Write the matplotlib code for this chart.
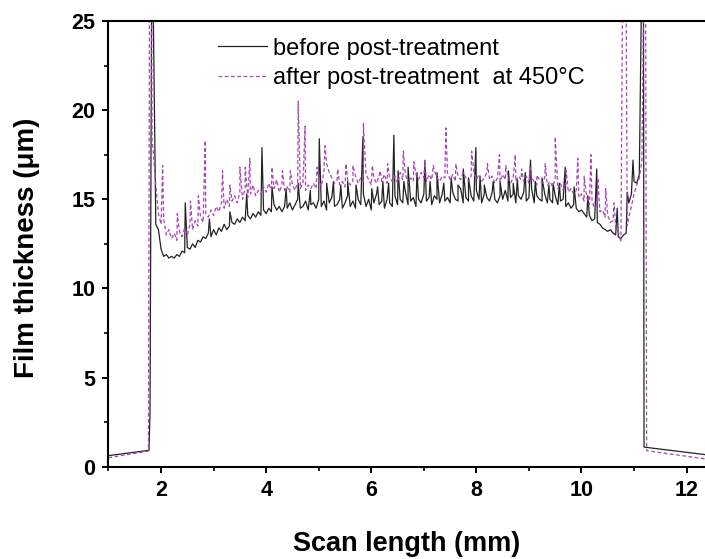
import numpy as np
import matplotlib
matplotlib.use("Agg")
import matplotlib.pyplot as plt
from matplotlib.ticker import MultipleLocator

plt.rcParams['font.family'] = ['Liberation Sans', 'DejaVu Sans']

# profile body, sampled every 0.05 mm from 1.90 to 11.10
grid_x = np.round(np.arange(1.90, 11.101, 0.05), 2)

before_body = [
    13.6, 13.3, 12.2, 11.8, 11.9, 11.7, 11.8, 11.7, 11.9, 11.8,
    12.1, 12.0, 12.3, 12.2, 12.5, 12.3, 12.7, 12.6, 12.9, 12.8,
    13.1, 12.9, 13.3, 13.0, 13.4, 13.2, 13.6, 13.3, 13.5, 13.7,
    13.6, 13.9, 13.7, 14.0, 13.8, 14.1, 13.9, 14.2, 14.0, 14.3,
    14.1, 14.4, 14.2, 14.5, 14.3, 14.7, 14.4, 14.6, 14.3, 14.6,
    14.5, 14.8, 14.4, 14.7, 15.0, 14.5, 14.6, 14.9, 14.4, 14.7,
    14.8, 14.5, 15.0, 14.6, 14.9, 14.4, 14.8, 15.1, 14.6, 14.7,
    15.0, 14.5, 14.8, 15.2, 14.6, 14.9, 14.5, 15.0, 14.7, 15.3,
    14.6, 15.0, 14.4, 14.8, 15.3, 14.7, 14.9, 14.5, 15.0, 14.8,
    14.6, 15.2, 14.7, 15.0, 14.8, 15.4, 14.7, 14.9, 15.1, 14.6,
    15.0, 14.8, 15.3, 14.9, 15.1, 14.7, 15.2, 15.0, 14.8, 15.3,
    14.9, 15.1, 14.8, 15.4, 15.0, 14.9, 15.6, 14.8, 15.1, 14.9,
    15.2, 14.9, 15.5, 15.0, 14.8, 15.3, 15.1, 14.9, 15.4, 15.0,
    14.8, 15.2, 15.0, 15.5, 14.9, 15.1, 15.3, 14.8, 15.2, 15.0,
    15.4, 14.9, 15.1, 15.6, 14.8, 15.2, 15.0, 14.9, 15.3, 14.8,
    15.0, 14.8, 15.2, 14.7, 14.9, 15.0, 14.6, 14.8, 14.5, 14.7,
    14.5, 14.3, 14.4, 14.2, 14.0, 14.1, 13.8, 13.9, 13.7, 13.6,
    13.4, 13.3, 13.2, 13.3, 13.1, 13.0, 12.9, 12.8, 13.0, 13.1,
    14.8, 15.3, 16.0, 15.9, 16.4,
]

after_body = [
    15.8, 14.2, 13.6, 13.9, 13.0, 13.3, 12.8, 13.1, 12.7, 13.2,
    12.9, 13.4, 13.0, 13.6, 13.3, 13.8, 13.5, 14.0, 13.7, 14.2,
    14.0, 14.4, 14.1, 14.6, 14.3, 14.8, 14.5, 15.0, 14.6, 14.9,
    15.2, 14.8, 15.4, 15.0, 15.6, 15.1, 15.3, 15.8, 15.2, 15.5,
    15.3, 15.7, 15.4, 15.9, 15.5, 15.6, 16.1, 15.4, 15.8, 15.5,
    15.7, 15.4, 15.8, 15.5, 16.0, 15.6, 15.9, 15.5, 15.8, 15.6,
    15.9, 15.6, 16.1, 15.7, 16.6, 17.0, 16.5, 16.2, 15.9, 16.1,
    15.8, 16.0, 15.7, 16.1, 15.8, 16.0, 16.3, 15.9, 16.2, 16.0,
    16.4, 16.1, 15.8, 16.2, 15.9, 16.3, 16.0, 16.4, 15.9, 16.2,
    16.0, 16.3, 15.9, 16.5, 16.1, 16.4, 15.9, 16.2, 16.0, 16.4,
    16.1, 16.5, 16.2, 16.0, 16.4, 16.1, 16.6, 16.2, 16.0, 16.3,
    16.2, 16.5, 16.1, 16.4, 16.0, 16.3, 16.1, 16.5, 16.2, 16.0,
    16.3, 16.6, 16.1, 16.4, 16.0, 16.2, 16.5, 16.1, 16.3, 15.9,
    16.2, 16.0, 16.4, 16.1, 16.3, 15.9, 16.2, 16.0, 16.3, 16.1,
    16.0, 16.3, 15.9, 16.2, 16.0, 15.8, 16.1, 15.9, 16.2, 15.8,
    16.0, 15.7, 16.1, 15.6, 15.9, 15.5, 15.8, 15.4, 15.6, 15.3,
    15.5, 15.1, 15.3, 14.9, 15.1, 14.7, 14.9, 14.5, 14.7, 14.3,
    14.4, 14.0, 14.1, 13.7, 13.8, 13.4, 13.2, 12.6, 26.0, 26.0,
    14.0, 14.6, 15.3, 15.8, 16.2,
]

# narrow spikes on top of the body
before_spike_x = [2.46, 2.92, 3.31, 3.63, 3.92, 4.11, 4.38, 4.61, 4.84, 5.01,
                  5.15, 5.28, 5.42, 5.55, 5.71, 5.84, 6.01, 6.12, 6.22, 6.33,
                  6.43, 6.51, 6.62, 6.70, 6.87, 7.02, 7.12, 7.25, 7.38, 7.52,
                  7.65, 7.75, 7.85, 7.99, 8.07, 8.15, 8.32, 8.45, 8.61, 8.70,
                  8.78, 8.93, 9.03, 9.12, 9.25, 9.38, 9.46, 9.58, 9.69, 9.86,
                  10.12, 10.29, 10.68, 10.87, 10.98]
before_spike_y = [14.8, 13.9, 14.3, 15.3, 17.9, 15.7, 15.6, 15.9, 15.5, 18.4,
                  15.9, 16.0, 15.8, 16.0, 15.8, 18.5, 15.6, 15.7, 16.0, 15.9,
                  18.6, 16.6, 16.0, 16.8, 16.5, 17.1, 16.0, 16.5, 15.9, 16.2,
                  15.8, 16.7, 16.2, 17.9, 16.3, 15.8, 16.0, 16.0, 16.6, 15.9,
                  16.1, 16.5, 17.2, 16.0, 16.2, 15.8, 15.9, 15.9, 16.8, 15.7,
                  15.2, 16.7, 14.5, 15.4, 17.2]

after_spike_x = [2.03, 2.31, 2.56, 2.71, 2.84, 3.17, 3.31, 3.50, 3.60, 3.69,
                 4.11, 4.31, 4.46, 4.61, 4.74, 4.97, 5.12, 5.36, 5.52, 5.65,
                 5.85, 6.02, 6.17, 6.31, 6.61, 6.81, 7.02, 7.18, 7.42, 7.61,
                 7.91, 8.21, 8.44, 8.56, 8.74, 8.86, 9.02, 9.15, 9.31, 9.50,
                 9.71, 9.93, 10.05, 10.18, 10.31, 10.46, 10.62, 10.78, 10.87]
after_spike_y = [16.9, 14.2, 14.9, 15.2, 18.3, 16.6, 15.8, 16.8, 16.8, 17.3,
                 16.8, 16.6, 16.6, 20.5, 19.1, 16.8, 18.0, 16.7, 17.0, 16.9,
                 19.25, 16.9, 16.6, 17.0, 17.7, 17.1, 17.2, 16.9, 19.0, 17.0,
                 17.7, 17.0, 17.5, 16.9, 17.5, 16.7, 16.8, 16.35, 17.0, 18.5,
                 16.6, 17.3, 16.3, 17.5, 16.2, 15.6, 14.8, 26.0, 13.5]

# substrate edges either side of the film
before_left_x = [1.00, 1.77, 1.79, 1.82, 1.85]
before_left_y = [0.62, 0.92, 3.0, 26.0, 26.0]
before_right_x = [11.14, 11.18, 11.19, 12.40]
before_right_y = [26.0, 26.0, 1.1, 0.66]

after_left_x = [1.00, 1.76, 1.78, 1.82, 1.83, 1.86, 1.88]
after_left_y = [0.50, 0.88, 26.0, 26.0, 18.3, 17.4, 16.5]
after_right_x = [11.15, 11.18, 11.22, 11.24, 12.40]
after_right_y = [17.2, 26.0, 26.0, 0.9, 0.42]


def build(left_x, left_y, body, spike_x, spike_y, right_x, right_y):
    x = np.concatenate([left_x, grid_x, spike_x, right_x])
    y = np.concatenate([left_y, body, spike_y, right_y])
    order = np.argsort(x, kind='stable')
    return x[order], y[order]


bx, by = build(before_left_x, before_left_y, before_body,
               before_spike_x, before_spike_y, before_right_x, before_right_y)
ax_, ay = build(after_left_x, after_left_y, after_body,
                after_spike_x, after_spike_y, after_right_x, after_right_y)

fig = plt.figure(figsize=(7.05, 5.59), dpi=100)
ax = fig.add_axes([0.1539, 0.1651, 0.8461, 0.7973])

ax.plot(bx, by, color='#222222', lw=0.9, label='before post-treatment')
ax.plot(ax_, ay, color='#a845b5', lw=0.9, linestyle=(0, (3, 2)),
        label='after post-treatment  at 450°C')

ax.set_xlim(1.0, 12.35)
ax.set_ylim(0, 25)
ax.xaxis.set_major_locator(MultipleLocator(2))
ax.xaxis.set_minor_locator(MultipleLocator(1))
ax.yaxis.set_major_locator(MultipleLocator(5))
ax.yaxis.set_minor_locator(MultipleLocator(2.5))

for s in ['left', 'bottom', 'top']:
    ax.spines[s].set_linewidth(1.5)
ax.spines['right'].set_visible(False)
ax.tick_params(which='major', direction='out', length=4.5, width=1.4,
               labelsize=15.5, pad=5)
ax.tick_params(which='minor', direction='out', length=2.8, width=1.2)
for lab in ax.get_xticklabels() + ax.get_yticklabels():
    lab.set_fontweight('bold')

ax.set_xlabel('Scan length (mm)', fontsize=19.5, fontweight='bold')
ax.set_ylabel('Film thickness (μm)', fontsize=20, fontweight='bold')
ax.xaxis.set_label_coords(0.5, -0.144)
ax.yaxis.set_label_coords(-0.115, 0.491)

ax.legend(loc='upper left', bbox_to_anchor=(0.309, 0.9326),
          bbox_transform=fig.transFigure, frameon=False, fontsize=17,
          handlelength=2.07, handletextpad=0.25, labelspacing=0.31,
          borderpad=0, borderaxespad=0)

fig.savefig('out.png', dpi=100)
